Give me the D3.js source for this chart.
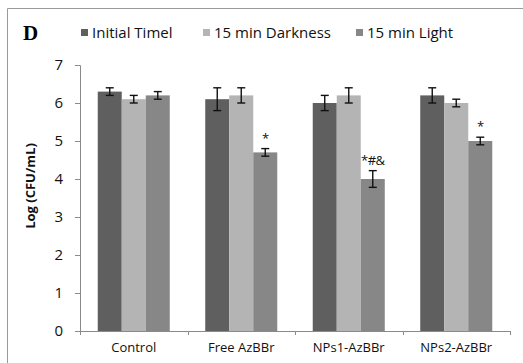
<!DOCTYPE html>
<html>
<head>
<meta charset="utf-8">
<script src="https://cdn.jsdelivr.net/npm/d3@7"></script>
<style>
	body { margin: 0; background: #fff; }
	svg { display: block; }
</style>
</head>
<body>
<svg id="chart"></svg>
<script>
const width = 523, height = 363;
const margin = { left: 80, right: 13, top: 65, bottom: 32 };

const categories = ['Control', 'Free AzBBr', 'NPs1-AzBBr', 'NPs2-AzBBr'];
const seriesNames = ['Initial Timel', '15 min Darkness', '15 min Light'];
const seriesColors = ['#5f5f5f', '#b4b4b4', '#878787'];
const initialValues = [6.3, 6.1, 6.0, 6.2];
const initialErrors = [0.1, 0.3, 0.2, 0.2];
const darknessValues = [6.1, 6.2, 6.2, 6.0];
const darknessErrors = [0.1, 0.2, 0.2, 0.1];
const lightValues = [6.2, 4.7, 4.0, 5.0];
const lightErrors = [0.1, 0.1, 0.22, 0.1];
const lightMarks = ['', '*', '*#&', '*'];
const yTicks = [0, 1, 2, 3, 4, 5, 6, 7];

const font = '"Open Sans", sans-serif';

const svg = d3.select('#chart')
	.attr('width', width)
	.attr('height', height);

// outer frame (left and top edges only are visible)
svg.append('path')
	.attr('d', `M7.5,${height} V8.5 H${width}`)
	.attr('fill', 'none')
	.attr('stroke', '#9a9a9a');

const xScale = d3.scaleBand()
	.domain(categories)
	.range([margin.left, width - margin.right])
	.paddingInner(0.33)
	.paddingOuter(0.165);

const xInner = d3.scaleBand()
	.domain(d3.range(seriesNames.length))
	.range([0, xScale.bandwidth()]);

const yScale = d3.scaleLinear()
	.domain([0, 7])
	.range([height - margin.bottom, margin.top]);

const values = [initialValues, darknessValues, lightValues];
const errors = [initialErrors, darknessErrors, lightErrors];

const rows = [];
categories.forEach((c, ci) => {
	seriesNames.forEach((s, si) => {
		rows.push({ cat: c, si: si, value: values[si][ci], err: errors[si][ci],
			mark: si === 2 ? lightMarks[ci] : '' });
	});
});

// bars
svg.append('g')
	.selectAll('rect')
	.data(rows)
	.enter()
	.append('rect')
	.attr('x', d => xScale(d.cat) + xInner(d.si))
	.attr('y', d => yScale(d.value))
	.attr('width', xInner.bandwidth())
	.attr('height', d => yScale(0) - yScale(d.value))
	.attr('fill', d => seriesColors[d.si]);

// axes
const yAxis = svg.append('g')
	.attr('transform', `translate(${margin.left},0)`)
	.call(d3.axisLeft(yScale).tickValues(yTicks).tickFormat(d3.format('d')).tickSize(5).tickPadding(12));

const xAxis = svg.append('g')
	.attr('transform', `translate(0,${height - margin.bottom})`)
	.call(d3.axisBottom(xScale).tickSize(0).tickPadding(12));

// category boundary ticks like the original
const bounds = categories.map(c => xScale(c) - xScale.step() * xScale.paddingInner() / 2)
	.concat([width - margin.right]);
xAxis.selectAll('.bound')
	.data(bounds)
	.enter()
	.append('line')
	.attr('class', 'bound')
	.attr('x1', d => Math.round(d) + 0.5)
	.attr('x2', d => Math.round(d) + 0.5)
	.attr('y1', 0)
	.attr('y2', 4)
	.attr('stroke', '#8a8a8a');

[yAxis, xAxis].forEach(ax => {
	ax.select('.domain').attr('stroke', '#8a8a8a');
	ax.selectAll('.tick line').attr('stroke', '#8a8a8a');
	ax.selectAll('text').attr('fill', '#111').attr('font-family', font);
});
yAxis.selectAll('text').attr('font-size', 15);
xAxis.selectAll('text').attr('font-size', 13);

// error bars
const eb = svg.append('g')
	.attr('stroke', '#111')
	.attr('stroke-width', 1.4);
rows.forEach(d => {
	const cx = xScale(d.cat) + xInner(d.si) + xInner.bandwidth() / 2;
	const y1 = yScale(d.value + d.err), y2 = yScale(d.value - d.err);
	eb.append('line').attr('x1', cx).attr('x2', cx).attr('y1', y1).attr('y2', y2);
	eb.append('line').attr('x1', cx - 4).attr('x2', cx + 4).attr('y1', y1).attr('y2', y1);
	eb.append('line').attr('x1', cx - 4).attr('x2', cx + 4).attr('y1', y2).attr('y2', y2);
});

// significance marks
svg.append('g')
	.selectAll('text')
	.data(rows.filter(d => d.mark))
	.enter()
	.append('text')
	.attr('x', d => xScale(d.cat) + xInner(d.si) + xInner.bandwidth() / 2)
	.attr('y', d => yScale(d.value + d.err) - 6)
	.attr('text-anchor', 'middle')
	.attr('font-family', font)
	.attr('font-size', 13)
	.attr('letter-spacing', -0.5)
	.attr('fill', '#111')
	.text(d => d.mark);

// y axis label
svg.append('text')
	.attr('transform', 'translate(35,186) rotate(-90)')
	.attr('text-anchor', 'middle')
	.attr('font-family', font)
	.attr('font-weight', 'bold')
	.attr('font-size', 13)
	.attr('fill', '#111')
	.text('Log (CFU/mL)');

// panel letter
svg.append('text')
	.attr('x', 23)
	.attr('y', 40)
	.attr('font-family', '"Liberation Serif", serif')
	.attr('font-weight', 'bold')
	.attr('font-size', 21)
	.attr('fill', '#000')
	.text('D');

// legend
const legendX = [81, 203, 356];
const legend = svg.append('g');
seriesNames.forEach((s, i) => {
	legend.append('rect')
		.attr('x', legendX[i])
		.attr('y', 29)
		.attr('width', 7)
		.attr('height', 7)
		.attr('fill', seriesColors[i]);
	legend.append('text')
		.attr('x', legendX[i] + 11)
		.attr('y', 38)
		.attr('font-family', font)
		.attr('font-size', 15)
		.attr('fill', '#111')
		.text(s);
});
</script>
</body>
</html>
